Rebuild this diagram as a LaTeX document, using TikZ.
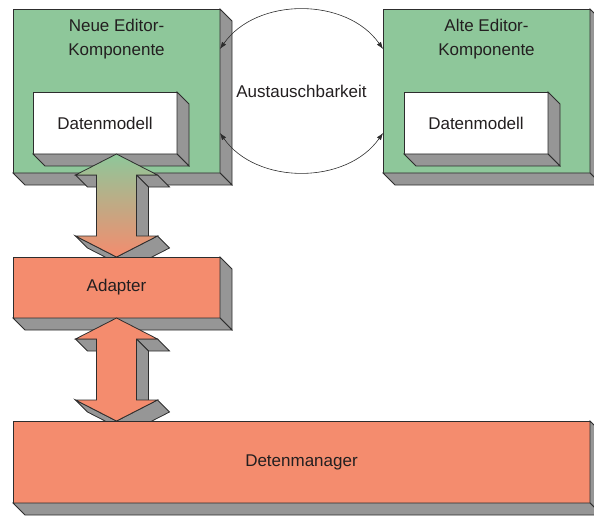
\documentclass[tikz,border=0pt]{standalone}
\usepackage{fontspec}
\setmainfont{Liberation Sans}
\usetikzlibrary{arrows.meta,positioning,calc}

\definecolor{gruen}{RGB}{142,199,154}
\definecolor{lachs}{RGB}{244,140,110}
\definecolor{grau}{RGB}{150,150,150}
\definecolor{rand}{RGB}{45,45,45}
\definecolor{schrift}{RGB}{35,31,32}

% rechte und untere Seite eines Quaders
\newcommand{\quader}[1]{%
  \filldraw[seite] (#1.north east) -- (#1.south east) -- ++(12,-12) -- ([shift={(12,-12)}]#1.north east) -- cycle;
  \filldraw[seite] (#1.south west) -- (#1.south east) -- ++(12,-12) -- ([shift={(12,-12)}]#1.south west) -- cycle;}

% Doppelpfeil mit Tiefe, #1 obere Spitze, #2 Fuellung
\newcommand{\doppelpfeil}[2]{%
  \begin{scope}[shift={(#1)}]
    \foreach \ax/\ay/\bx/\by in {41/-21/20/-21, 20/-21/20/-82, 41/-82/0/-103, 0/-103/-41/-82, -20/-21/-41/-21}
      \filldraw[seite] (\ax,\ay) -- (\bx,\by) -- (\bx+12,\by-12) -- (\ax+12,\ay-12) -- cycle;
    \draw[draw=rand, line width=0.8pt, #2] (0,0) -- (41,-21) -- (20,-21) -- (20,-82) -- (41,-82) -- (0,-103)
      -- (-41,-82) -- (-20,-82) -- (-20,-21) -- (-41,-21) -- cycle;
  \end{scope}}

\begin{document}
\begin{tikzpicture}[x=1pt, y=1pt, node distance=84pt and 163pt, >={Latex[length=7pt, width=5pt]},
  every node/.style={text=schrift, font=\fontsize{17}{24}\selectfont},
  kasten/.style={draw=rand, line width=0.8pt, outer sep=0pt, inner sep=0pt, align=center},
  komp/.style={kasten, fill=gruen, minimum width=207pt, minimum height=164pt},
  modell/.style={kasten, fill=white, minimum width=144pt, minimum height=62pt},
  titel/.style={anchor=north, align=center, inner sep=0pt, yshift=-10pt},
  seite/.style={draw=rand, line width=0.8pt, fill=grau}]
  \useasboundingbox (0,0) rectangle (594,515);
  \node[komp, label={[titel]north:Neue Editor-\\Komponente}] (neu) at (116.5,424) {};
  \quader{neu}
  \node[modell, below right=83pt and 20pt of neu.north west] (dm1) {Datenmodell};
  \quader{dm1}
  \node[komp, right=of neu, label={[titel]north:Alte Editor-\\Komponente}] (alt) {};
  \quader{alt}
  \node[modell, below right=83pt and 21pt of alt.north west] (dm2) {Datenmodell};
  \quader{dm2}
  \node (aus) at ($(neu.east)!0.5!(alt.west)$) {Austauschbarkeit};
  \draw[<->, draw=rand, line width=0.6pt] ([yshift=42pt]neu.east) to[bend left=55] ([yshift=42pt]alt.west);
  \draw[<->, draw=rand, line width=0.6pt] ([yshift=-42pt]neu.east) to[bend right=55] ([yshift=-42pt]alt.west);
  \doppelpfeil{neu.center |- dm1.south}{top color=gruen, bottom color=lachs}
  \node[kasten, fill=lachs, minimum width=207pt, minimum height=61pt, below=of neu] (adapter) {Adapter};
  \quader{adapter}
  \doppelpfeil{adapter.south}{fill=lachs}
  \node[kasten, fill=lachs, minimum width=577pt, minimum height=82pt,
        below right=103pt and 0pt of adapter.south west] (manager) {Detenmanager};
  \quader{manager}
\end{tikzpicture}
\end{document}
